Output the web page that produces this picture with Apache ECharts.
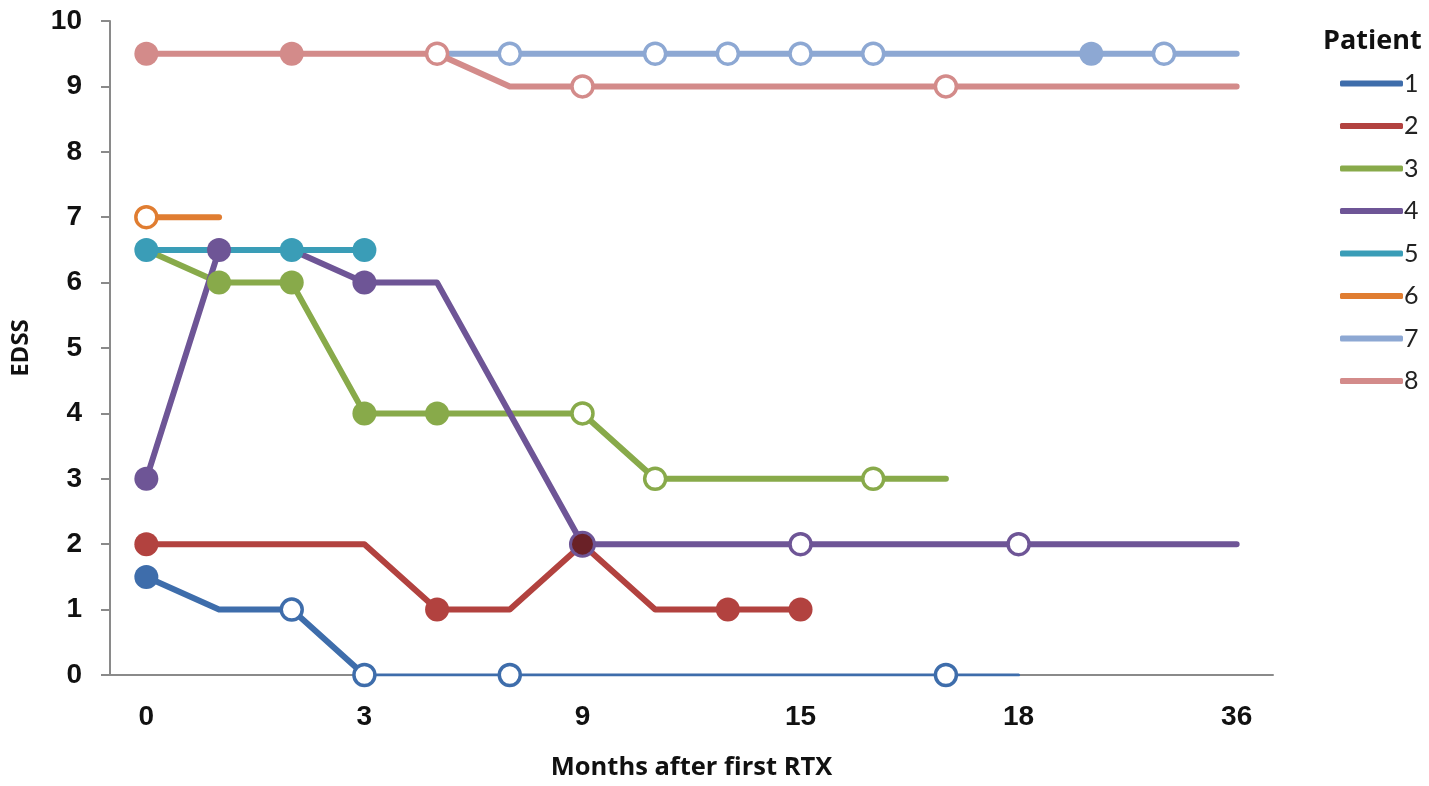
<!DOCTYPE html>
<html>
<head>
<meta charset="utf-8">
<script src="https://cdn.jsdelivr.net/npm/echarts@6/dist/echarts.min.js"></script>
<style>
  html, body { margin: 0; padding: 0; background: #fff; }
  #chart { width: 1429px; height: 786px; }
</style>
</head>
<body>
<div id="chart"></div>
<script>
// x positions (16 slots), only some carry a month label
const xLabels = ['0', '', '', '3', '', '', '9', '', '', '15', '', '', '18', '', '', '36'];
const patients = ['1', '2', '3', '4', '5', '6', '7', '8'];
const colors = ['#3E6DAB', '#B2423F', '#88AA4A', '#6E5596', '#3A9DB7', '#E07D31', '#8DA8D3', '#D38B8A'];

// EDSS values per slot (null = no visit)
const p1 = [1.5, 1, 1, 0, 0, 0, 0, 0, 0, 0, 0, 0, 0, null, null, null];
const p2 = [2, 2, 2, 2, 1, 1, 2, 1, 1, 1, null, null, null, null, null, null];
const p3 = [6.5, 6, 6, 4, 4, 4, 4, 3, 3, 3, 3, 3, null, null, null, null];
const p4 = [3, 6.5, 6.5, 6, 6, 4, 2, 2, 2, 2, 2, 2, 2, 2, 2, 2];
const p5 = [6.5, 6.5, 6.5, 6.5, null, null, null, null, null, null, null, null, null, null, null, null];
const p6 = [7, 7, null, null, null, null, null, null, null, null, null, null, null, null, null, null];
const p7 = [null, null, null, null, 9.5, 9.5, 9.5, 9.5, 9.5, 9.5, 9.5, 9.5, 9.5, 9.5, 9.5, 9.5];
const p8 = [9.5, 9.5, 9.5, 9.5, 9.5, 9, 9, 9, 9, 9, 9, 9, 9, 9, 9, 9];

// marker kind per slot: f = filled, h = hollow, d = dark overlap dot, '' = none
const m1 = ['f', '', 'h', 'h', '', 'h', '', '', '', '', '', 'h', '', '', '', ''];
const m2 = ['f', '', '', '', 'f', '', 'f', '', 'f', 'f', '', '', '', '', '', ''];
const m3 = ['', 'f', 'f', 'f', 'f', '', 'h', 'h', '', '', 'h', '', '', '', '', ''];
const m4 = ['f', 'f', '', 'f', '', '', 'd', '', '', 'h', '', '', 'h', '', '', ''];
const m5 = ['f', '', 'f', 'f', '', '', '', '', '', '', '', '', '', '', '', ''];
const m6 = ['h', '', '', '', '', '', '', '', '', '', '', '', '', '', '', ''];
const m7 = ['', '', '', '', '', 'h', '', 'h', 'h', 'h', 'h', '', '', 'f', 'h', ''];
const m8 = ['f', '', 'f', '', 'h', '', 'h', '', '', '', '', 'h', '', '', '', ''];

const values = [p1, p2, p3, p4, p5, p6, p7, p8];
const markers = [m1, m2, m3, m4, m5, m6, m7, m8];

// patient 1 runs along the x axis from slot 3 on, where the line is half hidden
const p1AxisFrom = 3;

function buildData(vals, marks, color, from, to, withMarks) {
  return vals.map((v, i) => {
    if (v == null || i < from || i > to) return '-';
    const k = withMarks ? marks[i] : '';
    if (k === 'f') return { value: v, symbol: 'circle', symbolSize: 24, itemStyle: { color: color, borderWidth: 0 } };
    if (k === 'h') return { value: v, symbol: 'circle', symbolSize: 21, itemStyle: { color: '#fff', borderColor: color, borderWidth: 3.5 } };
    if (k === 'd') return { value: v, symbol: 'circle', symbolSize: 24, itemStyle: { color: '#6A2127', borderColor: color, borderWidth: 3 } };
    return { value: v, symbol: 'none' };
  });
}

function lineSeries(s, from, to, width, withMarks) {
  return {
    name: patients[s],
    type: 'line',
    data: buildData(values[s], markers[s], colors[s], from, to, withMarks),
    showAllSymbol: true,
    lineStyle: { color: colors[s], width: width, cap: 'round', join: 'round' },
    itemStyle: { color: colors[s] },
    emphasis: { disabled: true }
  };
}

const series = [];
patients.forEach((name, s) => {
  if (s === 0) {
    // thick part down to the axis, then a thin part along it (marks drawn there)
    const head = lineSeries(0, 0, p1AxisFrom, 6, true);
    head.data[p1AxisFrom] = { value: p1[p1AxisFrom], symbol: 'none' };
    series.push(head);
    series.push(lineSeries(0, p1AxisFrom, 15, 3, true));
  } else {
    series.push(lineSeries(s, 0, 15, 6, true));
  }
});

let myChart = echarts.init(document.getElementById('chart'));
myChart.setOption({
  animation: false,
  title: {
    text: 'Patient',
    left: 1318,
    top: 23,
    textStyle: { fontFamily: 'Open Sans', fontWeight: 'bold', fontSize: 27, color: '#111' }
  },
  legend: {
    orient: 'vertical',
    left: 1335,
    top: 66,
    icon: 'roundRect',
    itemWidth: 63,
    itemHeight: 6,
    itemGap: 17.5,
    itemStyle: { borderWidth: 0 },
    textStyle: { fontFamily: 'Lato', fontSize: 25, color: '#222', lineHeight: 25, padding: [0, 0, 0, -4] },
    data: patients
  },
  grid: { left: 110, right: 156, top: 21, bottom: 110 },
  xAxis: {
    type: 'category',
    boundaryGap: true,
    data: xLabels.map((l, i) => String(i)),
    name: 'Months after first RTX',
    nameLocation: 'middle',
    nameGap: 80,
    nameTextStyle: { fontFamily: 'Open Sans', fontWeight: 'bold', fontSize: 25.5, color: '#111' },
    axisLine: { lineStyle: { color: '#8a8a8a', width: 2 } },
    axisTick: { show: false },
    axisLabel: {
      interval: 0,
      margin: 28,
      formatter: (v, i) => xLabels[i],
      fontFamily: 'Liberation Sans',
      fontWeight: 'bold',
      fontSize: 28,
      color: '#111'
    },
    splitLine: { show: false }
  },
  yAxis: {
    type: 'value',
    min: 0,
    max: 10,
    interval: 1,
    name: 'EDSS',
    nameLocation: 'middle',
    nameGap: 77,
    nameTextStyle: { fontFamily: 'Open Sans', fontWeight: 'bold', fontSize: 24, color: '#111' },
    axisLine: { show: true, lineStyle: { color: '#8a8a8a', width: 2 } },
    axisTick: { show: true, inside: false, length: 9, lineStyle: { color: '#8a8a8a', width: 2 } },
    axisLabel: {
      margin: 28,
      fontFamily: 'Liberation Sans',
      fontWeight: 'bold',
      fontSize: 28,
      color: '#111'
    },
    splitLine: { show: false }
  },
  series: series
});
</script>
</body>
</html>
